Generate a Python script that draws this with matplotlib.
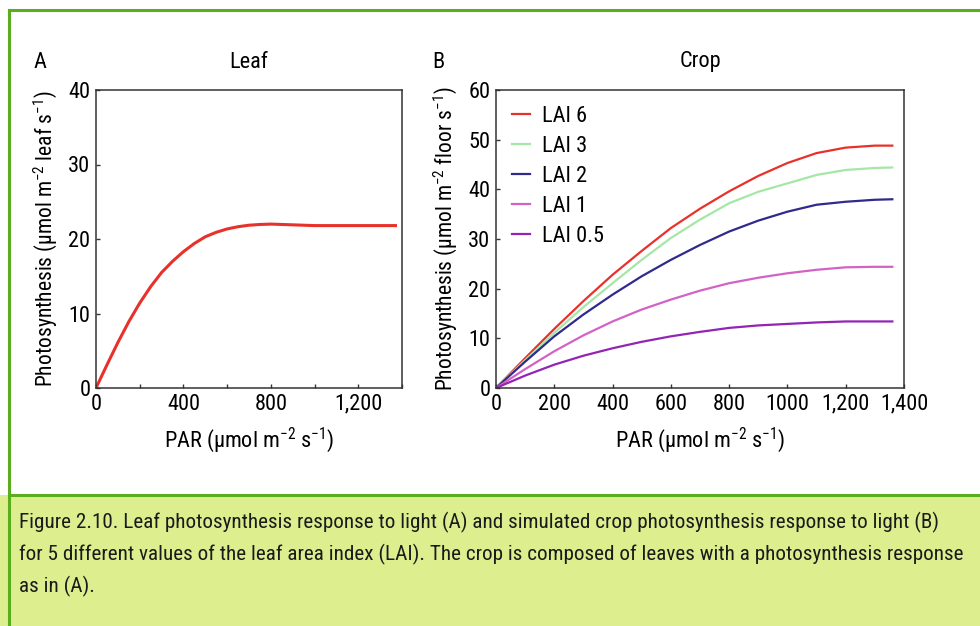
import numpy as np
import matplotlib
matplotlib.use("Agg")
import matplotlib.pyplot as plt
from matplotlib import font_manager
from matplotlib.patches import Rectangle
from matplotlib.lines import Line2D

# prefer a narrow sans, fall back to Liberation Sans
names = {f.name for f in font_manager.fontManager.ttflist}
FONT = 'Liberation Sans'
NARROW = False
for cand in ['Liberation Sans Narrow', 'Arial Narrow', 'Roboto Condensed', 'Open Sans Condensed']:
    if cand in names:
        FONT = cand
        NARROW = True
        break
plt.rcParams['font.family'] = [FONT, 'DejaVu Sans']
plt.rcParams['mathtext.fontset'] = 'custom'
plt.rcParams['mathtext.rm'] = FONT
plt.rcParams['mathtext.it'] = FONT
plt.rcParams['mathtext.bf'] = FONT

# leaf response (panel A)
leaf_par = [0, 50, 100, 150, 200, 250, 300, 350, 400, 450, 500, 550, 600, 650,
            700, 750, 800, 850, 900, 950, 1000, 1100, 1200, 1370]
leaf_ps = [0, 3.1, 6.1, 8.9, 11.4, 13.6, 15.5, 17.0, 18.3, 19.4, 20.3, 20.9, 21.35, 21.65,
           21.85, 21.95, 22.0, 21.95, 21.9, 21.85, 21.8, 21.8, 21.8, 21.8]

# crop response (panel B)
crop_par = [0, 100, 200, 300, 400, 500, 600, 700, 800, 900, 1000, 1100, 1200, 1300, 1360]
lai_labels = ['LAI 6', 'LAI 3', 'LAI 2', 'LAI 1', 'LAI 0.5']
lai_6 = [0, 6.0, 11.9, 17.5, 22.8, 27.6, 32.2, 36.1, 39.6, 42.7, 45.3, 47.3, 48.4, 48.8, 48.8]
lai_3 = [0, 5.6, 11.1, 16.3, 21.1, 25.8, 30.2, 33.9, 37.2, 39.5, 41.2, 42.9, 43.9, 44.3, 44.4]
lai_2 = [0, 5.3, 10.4, 14.8, 18.8, 22.5, 25.8, 28.8, 31.5, 33.7, 35.5, 36.9, 37.5, 37.9, 38.0]
lai_1 = [0, 3.8, 7.4, 10.6, 13.4, 15.8, 17.8, 19.6, 21.1, 22.2, 23.1, 23.8, 24.3, 24.4, 24.4]
lai_05 = [0, 2.5, 4.7, 6.5, 8.0, 9.3, 10.4, 11.3, 12.1, 12.6, 12.9, 13.2, 13.4, 13.4, 13.4]
lai_colors = ['#e8312a', '#a6e6a6', '#2f2a8c', '#d263c4', '#9324b4']

caption = ["Figure 2.10. Leaf photosynthesis response to light (A) and simulated crop photosynthesis response to light (B)",
           "for 5 different values of the leaf area index (LAI). The crop is composed of leaves with a photosynthesis response",
           "as in (A)."]

GREEN = '#5aad1c'
W, H = 980, 626
FS = 16 if NARROW else 15
CAP_FS = 15.2 if NARROW else 13.4

fig = plt.figure(figsize=(9.8, 6.26), dpi=100)

# frame and caption box
fig.patches.append(Rectangle((0, 0), 1, 1 - 495 / H, transform=fig.transFigure,
                             facecolor='#dcee8e', edgecolor='none', zorder=0))
fig.add_artist(Line2D([9 / W, 9 / W], [0, 1 - 10 / H], color=GREEN, lw=2.2))
fig.add_artist(Line2D([9 / W, 1], [1 - 10 / H, 1 - 10 / H], color=GREEN, lw=2.2))
fig.add_artist(Line2D([9 / W, 1], [1 - 495 / H, 1 - 495 / H], color=GREEN, lw=2.2))

for i, line in enumerate(caption):
    fig.text(19 / W, 1 - (522 + 32 * i) / H, line, fontsize=CAP_FS, va='center', ha='left', color='#1a1a1a')

def style(ax):
    for s in ax.spines.values():
        s.set_color('#333333')
        s.set_linewidth(1.1)
    ax.tick_params(direction='in', length=3, width=1, labelsize=FS, color='#333333', pad=4)

# panel A
axA = fig.add_axes([96 / W, 1 - 388 / H, 306 / W, 298 / H])
axA.plot(leaf_par, leaf_ps, color='#e8312a', lw=2.2)
axA.set_xlim(0, 1400)
axA.set_ylim(0, 40)
axA.set_xticks(np.arange(0, 1401, 200))
axA.set_xticklabels(['0', '', '400', '', '800', '', '1,200', ''])
axA.set_yticks([0, 10, 20, 30, 40])
style(axA)
axA.set_xlabel(r'PAR ($\mathregular{\mu}$mol m$^{-2}$ s$^{-1}$)', fontsize=FS, labelpad=8)
axA.set_ylabel(r'Photosynthesis ($\mathregular{\mu}$mol m$^{-2}$ leaf s$^{-1}$)', fontsize=FS - 0.5, labelpad=7)
fig.text(40 / W, 1 - 62 / H, 'A', fontsize=FS, ha='center', va='center')
fig.text(249 / W, 1 - 62 / H, 'Leaf', fontsize=FS, ha='center', va='center')

# panel B
axB = fig.add_axes([496 / W, 1 - 388 / H, 408 / W, 298 / H])
for ys, lab, c in zip([lai_6, lai_3, lai_2, lai_1, lai_05], lai_labels, lai_colors):
    axB.plot(crop_par, ys, color=c, lw=1.6, label=lab)
axB.set_xlim(0, 1400)
axB.set_ylim(0, 60)
axB.set_xticks(np.arange(0, 1401, 200))
axB.set_xticklabels(['0', '200', '400', '600', '800', '1000', '1,200', '1,400'])
axB.set_yticks(np.arange(0, 61, 10))
style(axB)
axB.set_xlabel(r'PAR ($\mathregular{\mu}$mol m$^{-2}$ s$^{-1}$)', fontsize=FS, labelpad=8)
axB.set_ylabel(r'Photosynthesis ($\mathregular{\mu}$mol m$^{-2}$ floor s$^{-1}$)', fontsize=FS - 0.5, labelpad=7)
axB.legend(loc='upper left', frameon=False, fontsize=FS, handlelength=0.85,
           handletextpad=0.5, labelspacing=0.41, borderaxespad=0.3)
fig.text(438 / W, 1 - 62 / H, 'B', fontsize=FS, ha='center', va='center')
fig.text(700 / W, 1 - 62 / H, 'Crop', fontsize=FS, ha='center', va='center')

fig.savefig('out.png', dpi=100)
